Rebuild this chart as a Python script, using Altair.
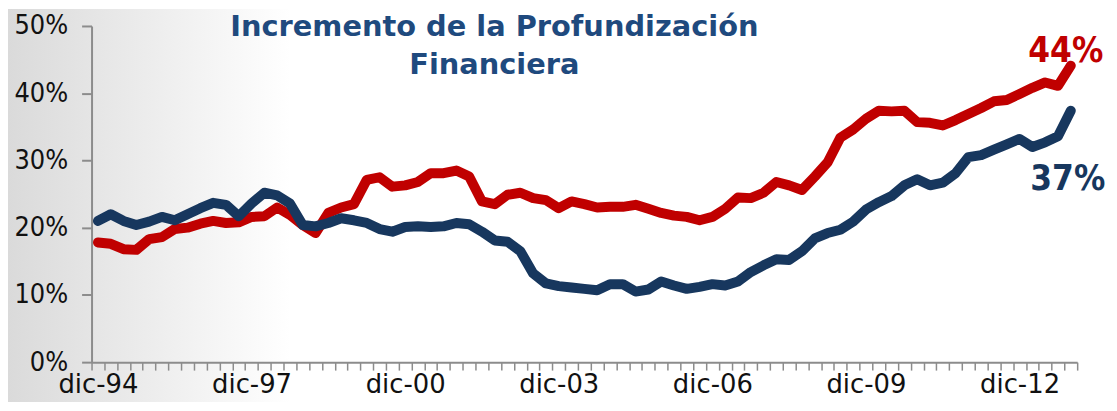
import altair as alt
import pandas as pd

# ---- categories ----
meses = ["mar", "jun", "sep", "dic"]
periodos = ["dic-94"] + [f"{m}-{a % 100:02d}" for a in range(1995, 2014) for m in meses]
etiquetas_eje = ["dic-94", "dic-97", "dic-00", "dic-03", "dic-06", "dic-09", "dic-12"]

# ---- series (% del PIB) ----
serie_roja = [
    17.8, 17.6, 16.8, 16.7, 18.3, 18.6, 19.8, 20.0, 20.6, 21.0, 20.7, 20.8,
    21.6, 21.7, 23.0, 21.9, 20.4, 19.2, 22.2, 23.0, 23.5, 27.1, 27.5, 26.1,
    26.3, 26.8, 28.1, 28.1, 28.5, 27.6, 23.9, 23.5, 24.9, 25.2, 24.4, 24.1,
    22.9, 23.9, 23.5, 23.0, 23.1, 23.1, 23.4, 22.8, 22.2, 21.8, 21.6, 21.1,
    21.6, 22.8, 24.5, 24.4, 25.2, 26.8, 26.3, 25.6, 27.6, 29.7, 33.4, 34.6,
    36.2, 37.4, 37.3, 37.4, 35.7, 35.6, 35.2, 36.0, 36.9, 37.8, 38.8, 39.0,
    39.9, 40.8, 41.6, 41.1, 44.1,
]
serie_azul = [
    21.0, 22.0, 21.0, 20.4, 20.9, 21.6, 21.1, 22.0, 22.9, 23.7, 23.4, 21.7,
    23.6, 25.2, 24.8, 23.6, 20.4, 20.2, 20.7, 21.4, 21.1, 20.7, 19.8, 19.4,
    20.1, 20.2, 20.1, 20.2, 20.7, 20.5, 19.4, 18.1, 17.9, 16.5, 13.2, 11.7,
    11.3, 11.1, 10.9, 10.7, 11.6, 11.6, 10.5, 10.8, 12.0, 11.4, 10.9, 11.2,
    11.6, 11.4, 12.0, 13.4, 14.4, 15.3, 15.2, 16.5, 18.4, 19.2, 19.7, 20.9,
    22.7, 23.8, 24.7, 26.3, 27.2, 26.3, 26.7, 28.1, 30.5, 30.8, 31.6, 32.4,
    33.2, 32.0, 32.7, 33.6, 37.4,
]
titulo = ["Incremento de la Profundización", "Financiera"]

ROJO = "#C00000"
AZUL = "#17375E"
GRIS = "#8C8C8C"
FUENTE_Y = "DejaVu Sans Condensed, DejaVu Sans"
FUENTE_X = "DejaVu Sans"

df_rojo = pd.DataFrame({"periodo": periodos, "valor": [v / 100 for v in serie_roja]})
df_azul = pd.DataFrame({"periodo": periodos, "valor": [v / 100 for v in serie_azul]})

label_expr = "indexof([" + ",".join(f"'{e}'" for e in etiquetas_eje) + "], datum.label) >= 0 ? datum.label : ''"

x_enc = alt.X(
    "periodo:O",
    sort=periodos,
    scale=alt.Scale(type="band", domain=periodos, paddingInner=0, paddingOuter=0),
    axis=alt.Axis(
        title=None, labelAngle=0, labelExpr=label_expr, labelOverlap=False,
        tickBand="extent", tickSize=8, tickColor=GRIS, tickWidth=1.5,
        domainColor=GRIS, domainWidth=2, zindex=1,
        labelFont=FUENTE_X, labelFontSize=26, labelColor="#111111", labelPadding=2,
    ),
)
y_enc = alt.Y(
    "valor:Q",
    scale=alt.Scale(domain=[0, 0.5], nice=False),
    axis=alt.Axis(
        title=None, values=[0, 0.1, 0.2, 0.3, 0.4, 0.5], format=".0%", grid=False,
        tickSize=10, tickColor=GRIS, tickWidth=2, domainColor=GRIS, domainWidth=2, zindex=1,
        labelFont=FUENTE_Y, labelFontSize=27, labelColor="#111111", labelPadding=14,
    ),
)

uno = pd.DataFrame({"a": [0]})

fondo = alt.Chart(uno).mark_rect(
    color=alt.Gradient(
        gradient="linear", x1=0, x2=1, y1=0, y2=0,
        stops=[alt.GradientStop(color="#dadada", offset=0),
               alt.GradientStop(color="#ffffff", offset=1)],
    )
).encode(x=alt.value(-84), x2=alt.value(200), y=alt.value(-17), y2=alt.value(378))

texto_titulo = alt.Chart(uno).mark_text(
    text=titulo, font="DejaVu Sans", fontWeight="bold", fontSize=29, color="#1F4A7E",
    align="center", baseline="alphabetic", lineHeight=38,
).encode(x=alt.value(405), y=alt.value(10))

linea_roja = alt.Chart(df_rojo).mark_line(
    color=ROJO, strokeWidth=10, strokeCap="round", strokeJoin="round"
).encode(x=x_enc, y=y_enc)
linea_azul = alt.Chart(df_azul).mark_line(
    color=AZUL, strokeWidth=10, strokeCap="round", strokeJoin="round"
).encode(x=x_enc, y=y_enc)

txt_rojo = alt.Chart(df_rojo.tail(1)).mark_text(
    color=ROJO, font=FUENTE_Y, fontSize=35, fontWeight="bold", align="center",
    baseline="alphabetic", dx=-5, dy=-4
).encode(x=x_enc, y=y_enc, text=alt.Text("valor:Q", format=".0%"))
txt_azul = alt.Chart(df_azul.tail(1)).mark_text(
    color=AZUL, font=FUENTE_Y, fontSize=35, fontWeight="bold", align="center",
    baseline="alphabetic", dx=-3, dy=80
).encode(x=x_enc, y=y_enc, text=alt.Text("valor:Q", format=".0%"))

chart = alt.layer(fondo, texto_titulo, linea_roja, linea_azul, txt_rojo, txt_azul).properties(
    width=991,
    height=338,
    padding={"left": 84, "top": 17, "right": 32, "bottom": 40},
    autosize=alt.AutoSizeParams(type="none"),
    background="white",
).configure_view(stroke=None)

chart.save("out.html", embed_options={"renderer": "svg", "actions": False})
